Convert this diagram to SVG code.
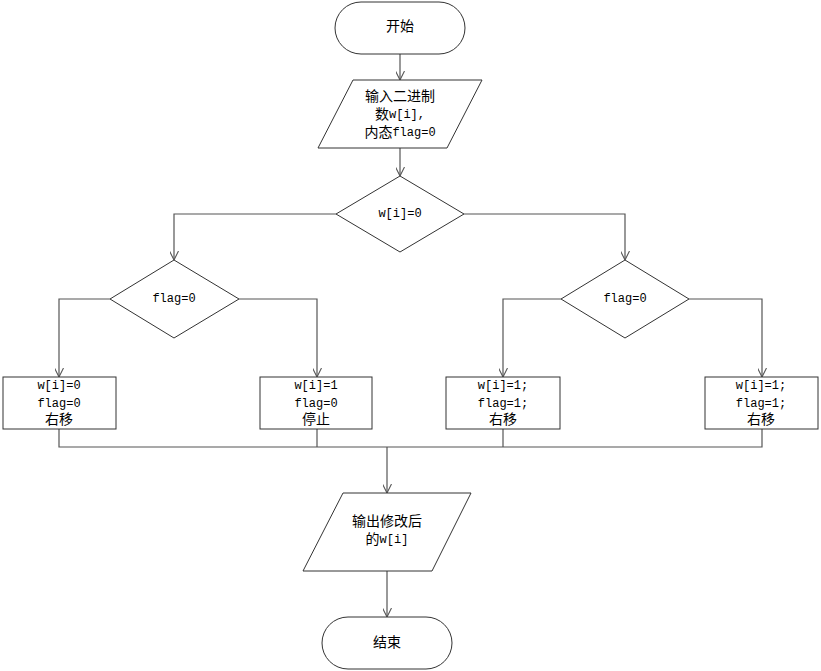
<svg xmlns="http://www.w3.org/2000/svg" width="821" height="671" viewBox="0 0 821 671">
<defs>
<style>
.s{fill:#fff;stroke:#333;stroke-width:1}
.c{fill:none;stroke:#555;stroke-width:1.2}
text{font-family:"Liberation Mono","Noto Sans CJK SC",monospace;font-size:14px;fill:#000;text-anchor:middle;dominant-baseline:central}
.l{font-size:12px}
</style>
<marker id="a" viewBox="0 0 10 10" refX="10" refY="5" markerWidth="9" markerHeight="9" orient="auto" markerUnits="userSpaceOnUse">
<path d="M0,0 L10,5 L0,10" fill="none" stroke="#555" stroke-width="1.2"/>
</marker>
</defs>
<rect width="821" height="671" fill="#fff"/>
<g id="connectors">
<path class="c" d="M400,54 V80" marker-end="url(#a)"/>
<path class="c" d="M400,148 V176" marker-end="url(#a)"/>
<path class="c" d="M336,214 H174 V260" marker-end="url(#a)"/>
<path class="c" d="M464,214 H625 V260" marker-end="url(#a)"/>
<path class="c" d="M110,299 H59 V377" marker-end="url(#a)"/>
<path class="c" d="M239,299 H317 V377" marker-end="url(#a)"/>
<path class="c" d="M561,299 H503 V377" marker-end="url(#a)"/>
<path class="c" d="M689,299 H762 V377" marker-end="url(#a)"/>
<path class="c" d="M59,429 V447 H762 V429"/>
<path class="c" d="M317,429 V447"/>
<path class="c" d="M503,429 V447"/>
<path class="c" d="M387,447 V493" marker-end="url(#a)"/>
<path class="c" d="M387,571 V617" marker-end="url(#a)"/>
</g>
<g id="start">
<rect class="s" x="335" y="2" width="130" height="52" rx="26"/>
<text x="400" y="27">开始</text>
</g>
<g id="input">
<polygon class="s" points="353,80 482,80 447,148 318,148"/>
<text x="400" y="97">输入二进制</text>
<text x="400" y="115">数<tspan class="l">w[i],</tspan></text>
<text x="400" y="133">内态<tspan class="l">flag=0</tspan></text>
</g>
<g id="d1">
<polygon class="s" points="400,176 464,214 400,252 336,214"/>
<text class="l" x="400" y="214">w[i]=0</text>
</g>
<g id="d2">
<polygon class="s" points="174,260 239,299 174,338 110,299"/>
<text class="l" x="174" y="299">flag=0</text>
</g>
<g id="d3">
<polygon class="s" points="625,260 689,299 625,338 561,299"/>
<text class="l" x="625" y="299">flag=0</text>
</g>
<g id="b1">
<rect class="s" x="3" y="377" width="113" height="52"/>
<text class="l" x="59" y="386">w[i]=0</text>
<text class="l" x="59" y="404">flag=0</text>
<text x="59" y="420">右移</text>
</g>
<g id="b2">
<rect class="s" x="260" y="377" width="112" height="52"/>
<text class="l" x="316" y="386">w[i]=1</text>
<text class="l" x="316" y="404">flag=0</text>
<text x="316" y="420">停止</text>
</g>
<g id="b3">
<rect class="s" x="446" y="377" width="114" height="52"/>
<text class="l" x="503" y="386">w[i]=1;</text>
<text class="l" x="503" y="404">flag=1;</text>
<text x="503" y="420">右移</text>
</g>
<g id="b4">
<rect class="s" x="705" y="377" width="113" height="52"/>
<text class="l" x="761" y="386">w[i]=1;</text>
<text class="l" x="761" y="404">flag=1;</text>
<text x="761" y="420">右移</text>
</g>
<g id="output">
<polygon class="s" points="343,493 471,493 432,571 303,571"/>
<text x="387" y="522">输出修改后</text>
<text x="387" y="540">的<tspan class="l">w[i]</tspan></text>
</g>
<g id="end">
<rect class="s" x="322" y="617" width="130" height="52" rx="26"/>
<text x="387" y="643">结束</text>
</g>
</svg>
